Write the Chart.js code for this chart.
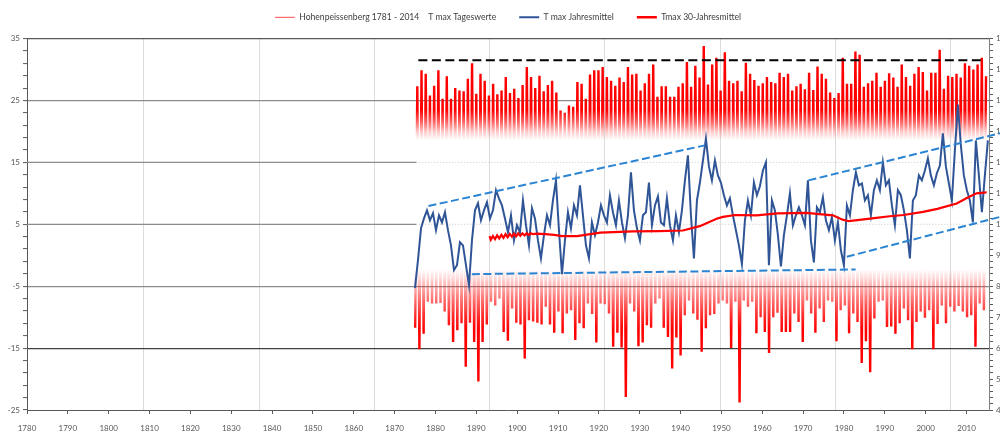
<!DOCTYPE html>
<html><head><meta charset="utf-8">
<script src="https://cdn.jsdelivr.net/npm/chart.js@4.4.1/dist/chart.umd.min.js"></script>
<style>html,body{margin:0;padding:0;background:#fff;overflow:hidden}#wrap{width:1000px;height:432px}</style>
</head><body><div id="wrap"><canvas id="c" width="1000" height="432"></canvas></div>
<script>
// ---------- DATA ----------
const xTickLabels = [1780,1790,1800,1810,1820,1830,1840,1850,1860,1870,1880,1890,1900,1910,1920,1930,1940,1950,1960,1970,1980,1990,2000,2010];
const yMajorTicks = [-25,-15,-5,5,15,25,35];
const y2MajorTicks = [4,5,6,7,8,9,10,11,12,13,14,15,16];
const dateGridYears = [1814.67,1842.04,1869.44,1896.64,1923.94,1951.57,1978.94,2006.17];

const dailyFirstYear = 1879;
// yearly extremes of daily T max (summer peak / winter trough), 1879-2014
const dailyMax = [27.3,29.9,29.3,25.8,27.4,29.9,25.3,28.9,25.3,27.0,
 26.6,26.5,28.5,31.0,26.1,29.3,28.2,25.8,27.7,26.0,
 26.6,28.8,26.2,26.9,25.4,27.5,30.4,28.8,27.0,29.0,
 26.5,27.5,28.2,26.3,23.4,23.0,24.2,24.0,28.0,27.7,
 25.3,29.2,29.9,29.9,30.4,28.8,28.2,27.4,28.7,28.0,
 30.4,29.2,29.3,26.6,27.8,29.3,30.8,25.6,27.3,27.3,
 25.6,25.6,27.2,27.8,31.2,27.2,30.6,28.7,
 33.8,27.6,30.8,31.9,26.6,32.8,28.2,27.8,28.2,26.5,
 31.1,29.3,28.3,27.4,27.8,28.8,28.0,27.8,29.5,28.8,
 29.3,26.6,27.3,27.7,26.8,29.5,26.7,30.5,29.3,28.5,
 26.3,25.4,26.2,31.9,27.7,27.7,32.9,32.4,27.2,27.8,
 28.2,29.5,27.2,28.2,29.4,28.7,27.2,30.8,28.8,27.4,
 29.3,30.4,29.6,26.6,29.5,29.5,33.2,26.9,29.0,28.8,
 29.3,28.7,31.0,30.6,30.0,30.8,31.9,28.9];
const dailyMin = [-11.7,-15.2,-12.7,-7.5,-7.8,-7.8,-7.7,-9.1,-11.3,-14.0,
 -12.1,-11.0,-18.0,-10.9,-14.0,-20.4,-14.0,-11.2,-7.5,-8.1,
 -7.0,-12.4,-13.8,-8.6,-10.9,-11.2,-16.7,-10.5,-10.7,-10.9,
 -11.2,-8.3,-11.2,-12.5,-9.1,-12.6,-9.4,-8.9,-13.7,-11.0,
 -11.8,-7.8,-9.5,-14.1,-7.8,-7.9,-9.4,-14.8,-12.5,-14.9,
 -22.9,-7.8,-9.1,-14.7,-14.1,-11.3,-11.7,-7.8,-7.0,-11.7,
 -13.2,-18.3,-13.3,-16.2,-9.7,-7.3,-9.4,-10.4,-15.6,-11.8,
 -9.7,-9.5,-7.8,-7.3,-7.8,-15.0,-7.5,-23.8,-7.3,-8.3,
 -7.5,-12.6,-10.0,-12.4,-15.8,-10.0,-9.3,-12.4,-12.4,-12.4,
 -9.4,-10.8,-14.0,-7.3,-9.4,-12.5,-8.6,-10.8,-7.3,-7.5,
 -13.9,-8.9,-8.1,-12.6,-9.4,-10.8,-17.4,-13.9,-18.9,-10.2,
 -7.5,-7.3,-11.6,-11.5,-12.7,-11.0,-8.6,-10.5,-15.2,-10.8,
 -9.1,-10.1,-8.9,-15.2,-11.1,-8.1,-11.0,-8.3,-9.1,-8.2,
 -9.1,-10.0,-9.7,-14.8,-7.8,-8.9];

// T max Jahresmittel (running annual mean, right axis), sampled every 0.712 years from 1879.0
const annualStart = 1879.0, annualStep = 0.712;
const annualMean = [7.94,8.84,9.87,10.19,10.45,10.13,10.36,9.81,10.29,10.06,
 10.39,9.81,9.32,8.52,8.68,9.42,9.32,8.68,8.03,9.48,
 10.45,10.68,10.13,10.45,10.71,10.19,10.45,11.10,10.84,10.61,
 10.19,9.74,10.29,9.48,9.97,9.74,10.77,9.97,9.32,10.52,
 10.19,9.48,8.90,9.65,10.29,9.97,10.77,11.42,9.81,8.39,
 9.48,10.39,9.87,10.61,10.29,11.26,10.29,9.32,8.90,10.06,
 9.65,10.06,10.61,10.29,10.06,10.94,10.39,9.97,10.77,10.06,
 9.55,10.29,11.68,10.45,9.87,9.48,10.29,10.39,11.35,9.97,
 10.61,10.90,10.06,9.97,10.84,9.97,9.48,10.29,9.74,10.45,
 11.42,12.23,10.29,8.90,10.77,11.35,12.06,12.77,11.87,11.42,
 12.06,11.58,11.35,10.94,10.61,10.84,10.29,9.81,9.32,8.71,
 10.13,10.77,10.29,11.35,10.94,11.23,11.74,12.00,8.68,10.77,
 10.45,9.65,8.64,9.65,10.29,11.00,9.97,10.29,10.55,10.29,
 9.97,11.42,9.48,8.77,10.55,10.39,10.87,10.13,9.81,10.23,
 9.48,10.06,9.16,8.68,10.61,10.29,11.10,11.68,11.26,11.32,
 10.77,10.94,10.29,11.10,11.42,11.10,12.00,11.26,11.42,10.61,
 9.97,11.10,10.94,10.45,9.81,8.90,10.77,10.94,11.58,11.42,
 11.74,12.13,11.58,11.26,11.65,11.90,12.94,11.87,11.32,10.77,
 12.39,13.87,12.55,11.58,11.10,10.77,10.06,12.71,11.58,10.39,11.58,12.71];

// Tmax 30-Jahresmittel (right axis)
const mean30Years = [1896.7,1897,1897.5,1898,1898.5,1899,1899.5,1900,1900.5,1901,1901.5,1902,1902.5,1903,1903.5,1904,1904.5,1905,1905.5,1906,1906.5,1907,1908,1910,1912,1914,1917.5,1923,1930.7,1937,1942.6,1946.6,1950.6,1952.1,1955,1960.1,1965,1972,1975,1978.2,1980.5,1982,1985,1988,1991.7,1995,1999.6,2003,2007.6,2010,2012.3,2014.7];
const mean30Values = [9.62,9.50,9.62,9.52,9.64,9.54,9.66,9.56,9.68,9.58,9.69,9.60,9.70,9.61,9.71,9.63,9.71,9.64,9.71,9.66,9.71,9.68,9.70,9.68,9.66,9.62,9.62,9.73,9.77,9.78,9.80,9.94,10.18,10.24,10.30,10.29,10.35,10.37,10.33,10.29,10.15,10.10,10.15,10.20,10.26,10.30,10.40,10.50,10.67,10.85,11.00,11.03];

// annotation lines
const maxLevel = { years: [1879.8, 2013.9], values: [31.5, 31.5] };
const trendLines = [
  { years: [1882.2, 1947.8], values: [10.59, 12.55] },
  { years: [1892.5, 1983.6], values: [8.39, 8.54] },
  { years: [1972.4, 2017.9], values: [11.42, 12.94] },
  { years: [1981.5, 2017.9], values: [8.95, 10.24] }
];
const partialGridValues = [15, 5];
const partialGridBreak = 1879.3;

// ---------- BUILD ----------
const XD_MIN = 1786.9, XD_MAX = 2015.26;
const dailyPoints = [];
dailyMax.forEach((mx, i) => {
  const yr = dailyFirstYear + i;
  dailyPoints.push({ x: yr + 0.05, y: dailyMin[i] });
  dailyPoints.push({ x: yr + 0.55, y: mx });
});
const annualPoints = annualMean.map((v, i) => ({ x: annualStart + i * annualStep, y: v }));
const mean30Points = mean30Years.map((yr, i) => ({ x: yr, y: mean30Values[i] }));
const toPts = o => o.years.map((yr, i) => ({ x: yr, y: o.values[i] }));

function dailyGradient(context) {
  const chart = context.chart;
  if (!chart.chartArea) return 'rgba(255,0,0,1)';
  const ys = chart.scales.y;
  const top = ys.getPixelForValue(35), bot = ys.getPixelForValue(-25);
  const g = chart.ctx.createLinearGradient(0, top, 0, bot);
  const stops = [[35,1],[23.5,1],[21.5,0.6],[20,0.22],[18.6,0],[-2.2,0],[-3.5,0.12],[-5,0.3],[-7.5,0.6],[-10,0.85],[-12,1],[-25,1]];
  stops.forEach(([v, a]) => g.addColorStop(Math.min(1, Math.max(0, (ys.getPixelForValue(v) - top) / (bot - top))), 'rgba(255,0,0,' + a + ')'));
  return g;
}

const datasets = [
  { label: 'daily', data: dailyPoints, xAxisID: 'xd', yAxisID: 'y', borderColor: dailyGradient, borderWidth: 2.4, pointRadius: 0, tension: 0, order: 10 },
  { label: 'annual', data: annualPoints, xAxisID: 'xd', yAxisID: 'y2', borderColor: '#2F5597', borderWidth: 2, pointRadius: 0, tension: 0, order: 5 },
  { label: 'mean30', data: mean30Points, xAxisID: 'xd', yAxisID: 'y2', borderColor: '#FF0000', borderWidth: 2.2, pointRadius: 0, tension: 0, order: 3 },
  { label: 'maxLevel', data: toPts(maxLevel), xAxisID: 'xd', yAxisID: 'y', borderColor: '#000000', borderWidth: 2, borderDash: [9, 4.5], pointRadius: 0, order: 2 }
];
trendLines.forEach((t, i) => datasets.push({ label: 'trend' + i, data: toPts(t), xAxisID: 'xd', yAxisID: 'y2', borderColor: '#2A84D2', borderWidth: 2, borderDash: [8, 3.5], pointRadius: 0, order: 1, clip: false }));
partialGridValues.forEach(v => {
  datasets.push({ label: 'gs' + v, data: [{ x: XD_MIN, y: v }, { x: partialGridBreak, y: v }], xAxisID: 'xd', yAxisID: 'y', borderColor: '#8C8C8C', borderWidth: 1.2, pointRadius: 0, order: 20 });
  datasets.push({ label: 'gd' + v, data: [{ x: partialGridBreak, y: v }, { x: XD_MAX, y: v }], xAxisID: 'xd', yAxisID: 'y', borderColor: '#C8C8C8', borderWidth: 1, borderDash: [1, 2], pointRadius: 0, order: 20 });
});

const legendDefs = [
  { text: 'Hohenpeissenberg 1781 - 2014    T max Tageswerte', color: '#FF7070', width: 1.2, ds: 0 },
  { text: 'T max Jahresmittel', color: '#2F5597', width: 2, ds: 1 },
  { text: 'Tmax 30-Jahresmittel', color: '#FF0000', width: 2.5, ds: 2 }
];

const legendNudge = { id: 'legendNudge', afterLayout(chart) { const l = chart.legend; if (!l) return; l.top -= 7; l.bottom -= 7; l.left += 8; l.right += 8; } };

const yTicks = []; for (let v = -25; v <= 35; v += 2) yTicks.push(v);
const y2Ticks = []; for (let k = 0; k <= 60; k++) y2Ticks.push(+(4 + 0.2 * k).toFixed(1));
const gridColorY = { 35: '#595959', 25: '#8C8C8C', '-5': '#8C8C8C', '-15': '#404040' };

Chart.defaults.font.family = 'Lato';
Chart.defaults.font.size = 8;
Chart.defaults.color = '#595959';

new Chart(document.getElementById('c'), {
  type: 'line',
  data: { datasets },
  plugins: [legendNudge],
  options: {
    responsive: false, animation: false, devicePixelRatio: 1,
    layout: { padding: { top: -3, left: 0, right: 0, bottom: 0 } },
    plugins: {
      tooltip: { enabled: false },
      legend: {
        position: 'top',
        labels: {
          usePointStyle: true, pointStyleWidth: 20, boxWidth: 20, padding: 23, color: '#404040',
          font: { family: 'Lato', size: 8.6 },
          generateLabels: () => legendDefs.map(d => ({ text: d.text, fillStyle: d.color, strokeStyle: d.color, lineWidth: d.width, pointStyle: 'line', hidden: false, datasetIndex: d.ds, fontColor: '#404040' }))
        },
        onClick: () => {}
      }
    },
    scales: {
      x: {
        type: 'linear', position: 'bottom', min: 1780, max: 2015.5,
        afterBuildTicks: s => { s.ticks = xTickLabels.map(v => ({ value: v })); },
        afterFit: s => { s.height = 22; },
        ticks: { autoSkip: false, maxRotation: 0, padding: 10, callback: v => String(v), color: '#595959' },
        grid: { drawOnChartArea: false, drawTicks: true, tickLength: 4, tickColor: '#595959' },
        border: { display: true, color: '#595959', width: 1 }
      },
      xd: {
        type: 'linear', position: 'top', min: XD_MIN, max: XD_MAX,
        afterBuildTicks: s => { s.ticks = dateGridYears.map(v => ({ value: v })); },
        afterFit: s => { s.height = 0; },
        ticks: { display: false },
        grid: { color: '#DCDCDC', lineWidth: 1, drawTicks: false },
        border: { display: false }
      },
      y: {
        type: 'linear', position: 'left', min: -25, max: 35, z: 1,
        afterBuildTicks: s => { s.ticks = yTicks.map(v => ({ value: v })); },
        afterFit: s => { s.width = 27; },
        ticks: { autoSkip: false, padding: 3, callback: v => yMajorTicks.includes(v) ? String(v) : '', color: '#595959' },
        grid: {
          color: c => (c.tick && gridColorY[c.tick.value] !== undefined) ? gridColorY[c.tick.value] : 'rgba(0,0,0,0)',
          lineWidth: 1.2, tickLength: 4, tickColor: '#595959', tickWidth: 1
        },
        border: { display: true, color: '#595959', width: 1 }
      },
      y2: {
        type: 'linear', position: 'right', min: 4, max: 16,
        afterBuildTicks: s => { s.ticks = y2Ticks.map(v => ({ value: v })); },
        afterFit: s => { s.width = 11; },
        ticks: { autoSkip: false, padding: 3, callback: v => y2MajorTicks.includes(v) ? String(v) : '', color: '#595959' },
        grid: { drawOnChartArea: false, tickLength: 4, tickColor: '#595959' },
        border: { display: true, color: '#808080', width: 1 }
      }
    }
  }
});
</script></body></html>
